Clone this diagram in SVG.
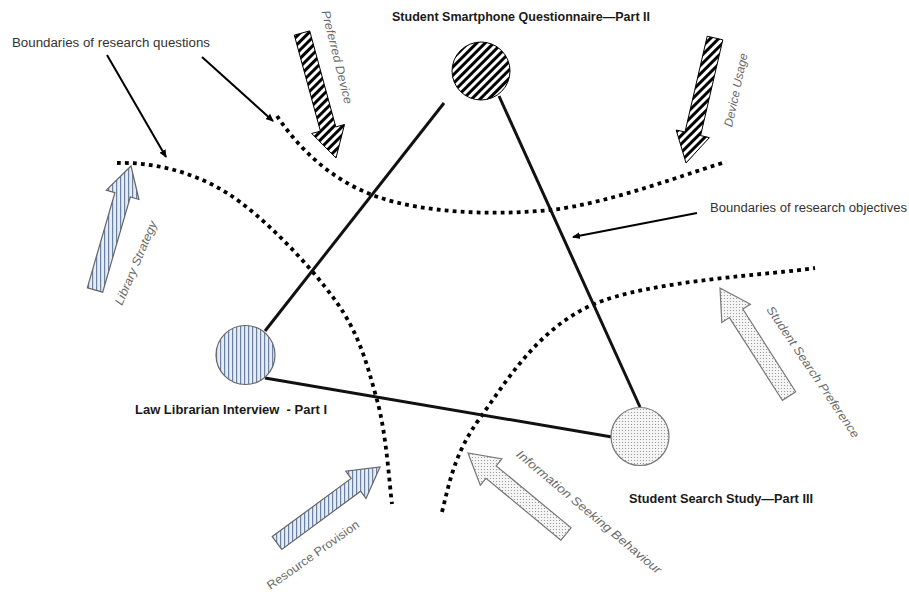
<svg xmlns="http://www.w3.org/2000/svg" width="909" height="592" viewBox="0 0 909 592">
<style>
.bold{font-family:"Liberation Sans",Arial,sans-serif;font-weight:bold;font-size:12px;fill:#1a1a1a}
.lbl{font-family:"Liberation Sans",Arial,sans-serif;font-size:12.5px;fill:#333}
.it{font-family:"Liberation Sans",Arial,sans-serif;font-size:12px;font-style:italic;fill:#6a6a6a}
.rp{font-family:"Liberation Sans",Arial,sans-serif;font-size:12px;fill:#6a6a6a}
.edge{stroke:#111;stroke-width:3;fill:none}
.bound{stroke:#000;stroke-width:3.8;stroke-dasharray:3.8 4.2;fill:none}
.ptr{stroke:#000;stroke-width:2;fill:none;marker-end:url(#ah)}
.blk{fill:url(#hatch);stroke:#000;stroke-width:1}
.blu{fill:url(#vstripe);stroke:#666;stroke-width:1.2}
.dot{fill:url(#dots);stroke:#777;stroke-width:1.2}
</style>
<defs>
<pattern id="hatch" width="6" height="6" patternUnits="userSpaceOnUse" patternTransform="rotate(45)">
<rect width="6" height="6" fill="#fff"/>
<rect width="3" height="6" fill="#000"/>
</pattern>
<pattern id="vstripe" width="4" height="4" patternUnits="userSpaceOnUse">
<rect width="4" height="4" fill="#e6ecf5"/>
<rect width="1.2" height="4" fill="#6b82a3"/>
</pattern>
<pattern id="dots" width="3" height="3" patternUnits="userSpaceOnUse">
<rect width="3" height="3" fill="#f5f5f5"/>
<circle cx="1.5" cy="1.5" r="0.6" fill="#8f8f8f"/>
</pattern>
<marker id="ah" markerWidth="8" markerHeight="8" refX="7" refY="4" orient="auto" markerUnits="userSpaceOnUse">
<path d="M0,0.5 L8,4 L0,7.5 Z" fill="#000"/>
</marker>
</defs>
<rect width="909" height="592" fill="#fff"/>

<g id="boundaries">
<path class="bound" d="M277,116 C300,150 332.5,181.3 378,197 C423.5,212.7 492,215.8 550,210 C608,204.2 696.7,170 726,162"/>
<path class="bound" d="M117,163 C150,162 190.7,170.2 227,193 C263.3,215.8 310,265.5 335,300 C360,334.5 367.5,366.2 377,400 C386.5,433.8 389.5,485.8 392,504"/>
<path class="bound" d="M442,512 C450,480 455,452.5 480,418 C505,383.5 536.2,330 592,305 C647.8,280 777.8,274.2 815,268"/>
</g>

<g id="connectors">
<line class="edge" x1="444" y1="103" x2="265" y2="331"/>
<line class="edge" x1="499" y1="96" x2="640" y2="407"/>
<line class="edge" x1="265" y1="378" x2="612" y2="437"/>
<line class="ptr" x1="107" y1="55" x2="166" y2="157"/>
<line class="ptr" x1="202" y1="57" x2="273" y2="121"/>
<line class="ptr" x1="697" y1="213" x2="573" y2="237"/>
</g>

<g id="node-smartphone">
<circle class="blk" cx="481" cy="71" r="29"/>
<text class="bold" x="392" y="21" textLength="258" lengthAdjust="spacingAndGlyphs">Student Smartphone Questionnaire—Part II</text>
</g>
<g id="node-librarian">
<circle class="blu" cx="245.5" cy="355" r="29.5"/>
<text class="bold" x="135" y="414" textLength="192" lengthAdjust="spacingAndGlyphs" style="white-space:pre">Law Librarian Interview  - Part I</text>
</g>
<g id="node-search">
<circle class="dot" cx="640" cy="436.5" r="29"/>
<text class="bold" x="629" y="503" textLength="184" lengthAdjust="spacingAndGlyphs">Student Search Study—Part III</text>
</g>

<g id="label-questions">
<text class="lbl" x="12" y="47" textLength="198" lengthAdjust="spacingAndGlyphs">Boundaries of research questions</text>
</g>
<g id="label-objectives">
<text class="lbl" x="710" y="212" textLength="197" lengthAdjust="spacingAndGlyphs">Boundaries of research objectives</text>
</g>

<g id="arrow-preferred-device">
<polygon class="blk" points="294.3,35.1 320.4,131.1 311.7,133.5 336,158 344.5,124.5 335.8,126.9 309.7,30.9"/>
<text class="it" transform="translate(337,57) rotate(76)" x="0" y="4" text-anchor="middle" textLength="96" lengthAdjust="spacingAndGlyphs">Preferred Device</text>
</g>
<g id="arrow-device-usage">
<polygon class="blk" points="707.2,36.2 685,132 676.2,130 686,163 709.4,137.6 700.6,135.6 722.8,39.8"/>
<text class="it" transform="translate(736,90) rotate(-78)" x="0" y="4" text-anchor="middle" textLength="75" lengthAdjust="spacingAndGlyphs">Device Usage</text>
</g>
<g id="arrow-library-strategy">
<polygon class="blu" points="87.3,287.8 114.9,192.6 106.3,190.1 131,166 138.9,199.5 130.3,197 102.7,292.2"/>
<text class="it" transform="translate(136,263) rotate(-67)" x="0" y="4" text-anchor="middle" textLength="90" lengthAdjust="spacingAndGlyphs">Library Strategy</text>
</g>
<g id="arrow-resource-provision">
<polygon class="blu" points="272.25,536.6 351.15,478.4 345.8,471.1 380,467 366,498.5 360.65,491.2 281.75,549.4"/>
<text class="rp" transform="translate(313,555) rotate(-35.4)" x="0" y="4" text-anchor="middle" textLength="110" lengthAdjust="spacingAndGlyphs">Resource Provision</text>
</g>
<g id="arrow-information-seeking">
<polygon class="dot" points="560.9,540.2 486,478.3 480.3,485.2 468,453 501.9,459 496.2,465.9 571.1,527.8"/>
<text class="it" transform="translate(589,512) rotate(40)" x="0" y="4" text-anchor="middle" textLength="185" lengthAdjust="spacingAndGlyphs">Information Seeking Behaviour</text>
</g>
<g id="arrow-search-preference">
<polygon class="dot" points="782.3,400.3 729.4,317.6 721.8,322.4 720,288 750.4,304.2 742.8,309 795.7,391.7"/>
<text class="it" transform="translate(813,372) rotate(56)" x="0" y="4" text-anchor="middle" textLength="156" lengthAdjust="spacingAndGlyphs">Student Search Preference</text>
</g>
</svg>
